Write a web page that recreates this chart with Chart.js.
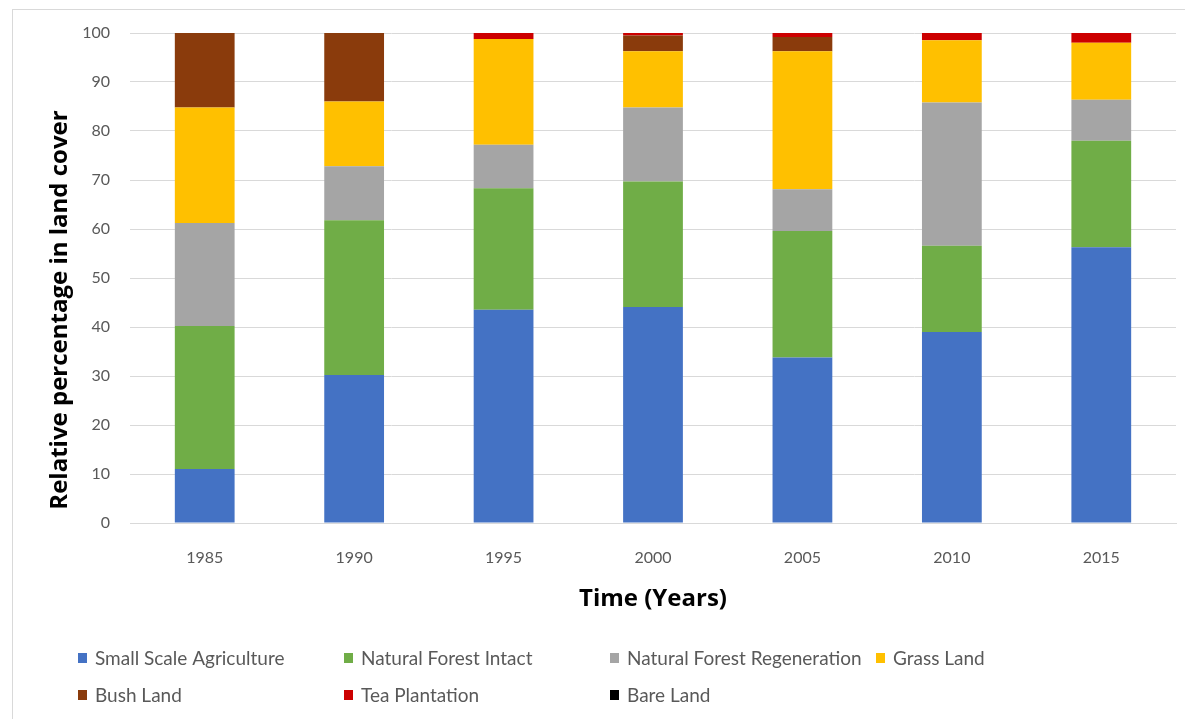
<!DOCTYPE html>
<html>
<head>
<meta charset="utf-8">
<script src="https://cdn.jsdelivr.net/npm/chart.js@4/dist/chart.umd.min.js"></script>
<style>
  html, body { margin: 0; padding: 0; background: #ffffff; }
  #wrap { position: relative; width: 1185px; height: 719px; overflow: hidden; }
  #frame { position: absolute; left: 12px; top: 9px; width: 1200px; height: 800px; border: 1px solid #d9d9d9; }
  canvas { position: absolute; left: 0; top: 0; }
</style>
</head>
<body>
<div id="wrap">
  <div id="frame"></div>
  <canvas id="c" width="1185" height="719"></canvas>
</div>
<script>
const years = ["1985", "1990", "1995", "2000", "2005", "2010", "2015"];
const seriesNames = ["Small Scale Agriculture", "Natural Forest Intact", "Natural Forest Regeneration", "Grass Land", "Bush Land", "Tea Plantation", "Bare Land"];
const smallScaleAgriculture = [11, 30.2, 43.5, 44.1, 33.8, 39, 56.3];
const naturalForestIntact = [29.2, 31.6, 24.8, 25.6, 25.8, 17.6, 21.7];
const naturalForestRegeneration = [21, 11, 8.9, 15.1, 8.5, 29.2, 8.4];
const grassLand = [23.6, 13.2, 21.6, 11.5, 28.2, 12.7, 11.6];
const bushLand = [15.2, 14.0, 0, 3.2, 2.9, 0, 0];
const teaPlantation = [0, 0, 1.2, 0.5, 0.8, 1.5, 2.0];
const bareLand = [0, 0, 0, 0, 0, 0, 0];
const yTicks = [0, 10, 20, 30, 40, 50, 60, 70, 80, 90, 100];
const yTitle = "Relative percentage in land cover";
const xTitle = "Time (Years)";

const colors = ["#4472C4", "#70AD47", "#A5A5A5", "#FFC000", "#8A3B0C", "#CC0000", "#000000"];
const values = [smallScaleAgriculture, naturalForestIntact, naturalForestRegeneration, grassLand, bushLand, teaPlantation, bareLand];

const FONT = "Lato, 'Open Sans', sans-serif";
const TFONT = "'Open Sans', Lato, sans-serif";

const extras = {
  id: 'extras',
  afterDraw(chart) {
    const ctx = chart.ctx;
    ctx.save();
    // Y axis title
    ctx.translate(60, 310);
    ctx.rotate(-Math.PI / 2);
    ctx.font = "bold 24px " + TFONT;
    ctx.fillStyle = "#000000";
    ctx.textAlign = "center";
    ctx.textBaseline = "middle";
    ctx.fillText(yTitle, 0, 0);
    ctx.restore();

    // Legend grid
    const cols = [82, 348, 614, 880];
    const rows = [658, 695];
    ctx.save();
    ctx.font = "19px " + FONT;
    ctx.textBaseline = "middle";
    ctx.textAlign = "left";
    chart.data.datasets.forEach((ds, i) => {
      const x = cols[i % 4];
      const y = rows[Math.floor(i / 4)];
      ctx.fillStyle = ds.backgroundColor;
      ctx.fillRect(x - 4, y - 5, 9, 10);
      ctx.fillStyle = "#595959";
      ctx.fillText(ds.label, x + 13, y + 1);
    });
    ctx.restore();
  }
};

new Chart(document.getElementById('c'), {
  type: 'bar',
  data: {
    labels: years,
    datasets: seriesNames.map((name, i) => ({
      label: name,
      data: values[i],
      backgroundColor: colors[i],
      borderWidth: 0,
      barPercentage: 0.4,
      categoryPercentage: 1.0
    }))
  },
  options: {
    responsive: false,
    animation: false,
    layout: { padding: { left: 47, right: 9, top: 33, bottom: 96 } },
    plugins: {
      legend: { display: false },
      tooltip: { enabled: false }
    },
    scales: {
      x: {
        stacked: true,
        grid: { display: false, drawTicks: false },
        border: { display: true, color: "#d9d9d9", width: 1 },
        ticks: { color: "#595959", font: { family: FONT, size: 16 }, padding: 25 },
        title: { display: true, text: xTitle, color: "#000000", font: { family: TFONT, size: 24, weight: "bold" }, padding: { top: 0, bottom: 9 } },
        afterFit(scale) { scale.height = 100; }
      },
      y: {
        stacked: true,
        min: 0,
        max: 100,
        afterBuildTicks(scale) { scale.ticks = yTicks.map(v => ({ value: v })); },
        grid: { color: "#d9d9d9", drawTicks: false },
        border: { display: false },
        ticks: { color: "#595959", font: { family: FONT, size: 16 }, padding: 20 },
        title: { display: false },
        afterFit(scale) { scale.width = 83; }
      }
    }
  },
  plugins: [extras]
});
</script>
</body>
</html>
